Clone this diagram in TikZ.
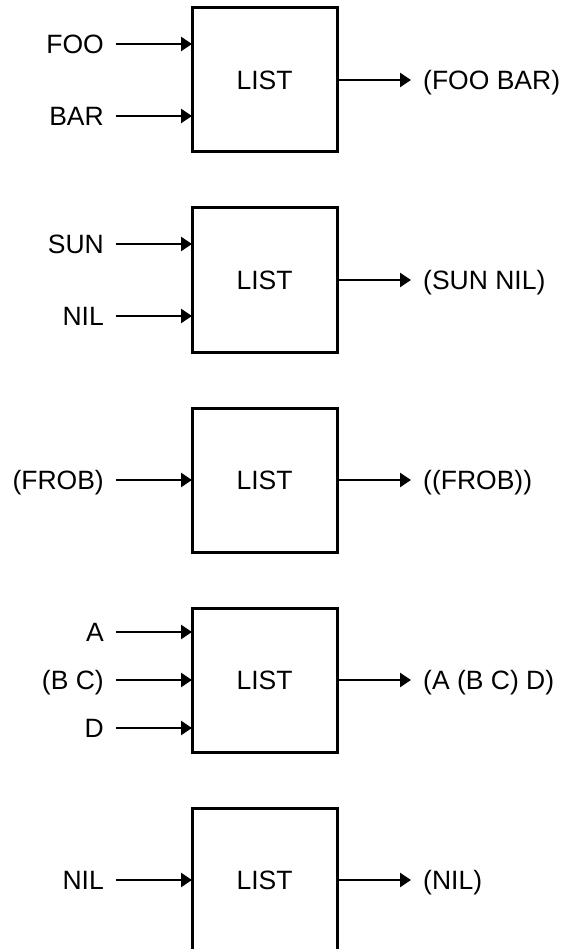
\documentclass[tikz,border=0pt]{standalone}
\usepackage{fontspec}
\setmainfont{Liberation Sans}
\usetikzlibrary{arrows.meta,positioning}

\begin{document}
\begin{tikzpicture}[
    x=1pt, y=-1pt,
    font=\fontsize{26.5pt}{30pt}\selectfont,
    box/.style={
        draw,
        line width=3pt,
        minimum width=145pt,
        minimum height=144pt,
        inner sep=0pt,
        outer sep=0pt
    },
    lbl/.style={
        inner xsep=12pt,
        inner ysep=0pt,
        text height=19pt,
        text depth=0pt
    },
    line/.style={-{Triangle[length=11pt,width=14pt]}, line width=2.5pt}
]

\useasboundingbox (0,0) rectangle (564,949);

% --- (LIST FOO BAR) ---
\node[box] (list1) at (264.5,80) {LIST};
\coordinate (in1a) at ([yshift=36pt]list1.west);
\coordinate (in1b) at ([yshift=-36pt]list1.west);
\node[lbl, left=76pt of in1a] (foo) {FOO};
\node[lbl, left=76pt of in1b] (bar) {BAR};
\node[lbl, right=74pt of list1] (res1) {(FOO BAR)};

\draw[line] (foo) -- (in1a);
\draw[line] (bar) -- (in1b);
\draw[line] (list1) -- (res1);

% --- (LIST SUN NIL) ---
\node[box] (list2) at (264.5,280) {LIST};
\coordinate (in2a) at ([yshift=36pt]list2.west);
\coordinate (in2b) at ([yshift=-36pt]list2.west);
\node[lbl, left=76pt of in2a] (sun) {SUN};
\node[lbl, left=76pt of in2b] (nil2) {NIL};
\node[lbl, right=74pt of list2] (res2) {(SUN NIL)};

\draw[line] (sun) -- (in2a);
\draw[line] (nil2) -- (in2b);
\draw[line] (list2) -- (res2);

% --- (LIST '(FROB)) ---
\node[box] (list3) at (264.5,480) {LIST};
\node[lbl, left=76pt of list3] (frob) {(FROB)};
\node[lbl, right=74pt of list3] (res3) {((FROB))};

\draw[line] (frob) -- (list3);
\draw[line] (list3) -- (res3);

% --- (LIST A '(B C) D) ---
\node[box] (list4) at (264.5,680) {LIST};
\coordinate (in4a) at ([yshift=48pt]list4.west);
\coordinate (in4b) at (list4.west);
\coordinate (in4c) at ([yshift=-48pt]list4.west);
\node[lbl, left=76pt of in4a] (a) {A};
\node[lbl, left=76pt of in4b] (bc) {(B C)};
\node[lbl, left=76pt of in4c] (d) {D};
\node[lbl, right=74pt of list4] (res4) {(A (B C) D)};

\draw[line] (a) -- (in4a);
\draw[line] (bc) -- (in4b);
\draw[line] (d) -- (in4c);
\draw[line] (list4) -- (res4);

% --- (LIST NIL) ---
\node[box] (list5) at (264.5,880) {LIST};
\node[lbl, left=76pt of list5] (nil5) {NIL};
\node[lbl, right=74pt of list5] (res5) {(NIL)};

\draw[line] (nil5) -- (list5);
\draw[line] (list5) -- (res5);

\end{tikzpicture}
\end{document}
